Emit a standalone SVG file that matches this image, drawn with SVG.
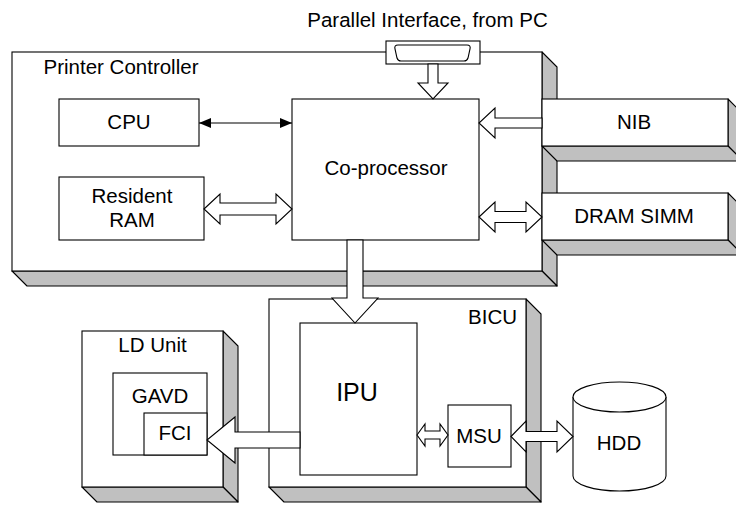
<svg xmlns="http://www.w3.org/2000/svg" width="736" height="505" viewBox="0 0 736 505">
<defs>
<style>
.box{fill:#fff;stroke:#000;stroke-width:1.1}
.sh{fill:#c0c0c0;stroke:#000;stroke-width:1.1;stroke-linejoin:round}
.arr{fill:#fff;stroke:#000;stroke-width:1.1;stroke-linejoin:miter}
.t{font-family:"Liberation Sans",Arial,sans-serif;font-size:20.5px;fill:#000;text-anchor:middle}
.ln{stroke:#000;stroke-width:1.1;fill:none}
</style>
<marker id="ah" viewBox="0 0 12 10" refX="12" refY="5" markerWidth="12" markerHeight="10" markerUnits="userSpaceOnUse" orient="auto-start-reverse">
<path d="M0,0 L12,5 L0,10 Z" fill="#000"/>
</marker>
</defs>
<rect width="736" height="505" fill="#fff"/>
<text class="t" x="427.5" y="27">Parallel Interface, from PC</text>

<g id="printer-controller">
<polygon class="sh" points="542,52 557,67 557,286 542,271"/>
<polygon class="sh" points="12,271 542,271 557,286 27,286"/>
<rect class="box" x="12" y="52" width="530" height="219"/>
<text class="t" x="121" y="74">Printer Controller</text>
</g>

<g id="nib">
<polygon class="sh" points="728,99 743,114 743,161 728,146"/>
<polygon class="sh" points="542,146 728,146 743,161 557,161"/>
<rect class="box" x="542" y="99" width="186" height="47"/>
<text class="t" x="634" y="129">NIB</text>
</g>

<g id="dram-simm">
<polygon class="sh" points="728,193 743,208 743,255 728,240"/>
<polygon class="sh" points="542,240 728,240 743,255 557,255"/>
<rect class="box" x="542" y="193" width="186" height="47"/>
<text class="t" x="634" y="223">DRAM SIMM</text>
</g>

<g id="parallel-port">
<rect class="box" x="386" y="41" width="94" height="23"/>
<path class="ln" d="M398,45 L467,45 Q471,45 470,49 L468,58 Q467,61 464,61 L401,61 Q398,61 397,58 L395,49 Q394,45 398,45 Z"/>
</g>

<g id="cpu">
<rect class="box" x="59" y="99" width="140" height="47"/>
<text class="t" x="129" y="129">CPU</text>
</g>

<g id="resident-ram">
<rect class="box" x="59" y="177" width="145" height="63"/>
<text class="t" x="132" y="203">Resident</text>
<text class="t" x="132" y="227">RAM</text>
</g>

<g id="co-processor">
<rect class="box" x="292" y="99" width="187" height="141"/>
<text class="t" x="386" y="175">Co-processor</text>
</g>

<g id="bicu">
<polygon class="sh" points="526,299 541,314 541,502 526,487"/>
<polygon class="sh" points="269,487 526,487 541,502 284,502"/>
<rect class="box" x="269" y="299" width="257" height="188"/>
<text class="t" x="517" y="324" style="text-anchor:end">BICU</text>
</g>

<g id="ipu">
<rect class="box" x="300" y="323" width="117" height="152"/>
<text class="t" x="357" y="401" style="font-size:25px">IPU</text>
</g>

<g id="msu">
<rect class="box" x="448" y="405" width="63" height="62"/>
<text class="t" x="479" y="443">MSU</text>
</g>

<g id="ld-unit">
<polygon class="sh" points="223,331 238,346 238,502 223,487"/>
<polygon class="sh" points="82,487 223,487 238,502 97,502"/>
<rect class="box" x="82" y="331" width="141" height="156"/>
<text class="t" x="152.5" y="352">LD Unit</text>
</g>

<g id="gavd">
<rect class="box" x="113" y="373" width="94" height="82"/>
<text class="t" x="160" y="403">GAVD</text>
</g>

<g id="fci">
<rect class="box" x="144" y="413" width="63" height="42"/>
<text class="t" x="175" y="440">FCI</text>
</g>

<g id="hdd">
<path class="box" d="M573,397 L573,476 A46.5,15 0 0 0 666,476 L666,397"/>
<ellipse class="box" cx="619.5" cy="397" rx="46.5" ry="15"/>
<text class="t" x="619" y="450">HDD</text>
</g>

<g id="connectors">
<line class="ln" x1="199" y1="123" x2="292" y2="123" marker-start="url(#ah)" marker-end="url(#ah)"/>
<polygon class="arr" points="428,64 438,64 438,83 448,83 433,99 418,83 428,83"/>
<polygon class="arr" points="204,209 220,194 220,203 276,203 276,194 292,209 276,224 276,215 220,215 220,224"/>
<polygon class="arr" points="542,118 495,118 495,108 479,123 495,138 495,128 542,128"/>
<polygon class="arr" points="479,217 495,202 495,211.5 526,211.5 526,202 542,217 526,232 526,222.5 495,222.5 495,232"/>
<polygon class="arr" points="347,240 363,240 363,298 378,298 355,323 332,298 347,298"/>
<polygon class="arr" points="300,432 235,432 235,417 207,440 235,463 235,448 300,448"/>
<polygon class="arr" points="417,435 425,424 425,431 440,431 440,424 448,435 440,446 440,439 425,439 425,446"/>
<polygon class="arr" points="511,436.5 526,421 526,431.5 557,431.5 557,421 573,436.5 557,452 557,441.5 526,441.5 526,452"/>
</g>
</svg>
